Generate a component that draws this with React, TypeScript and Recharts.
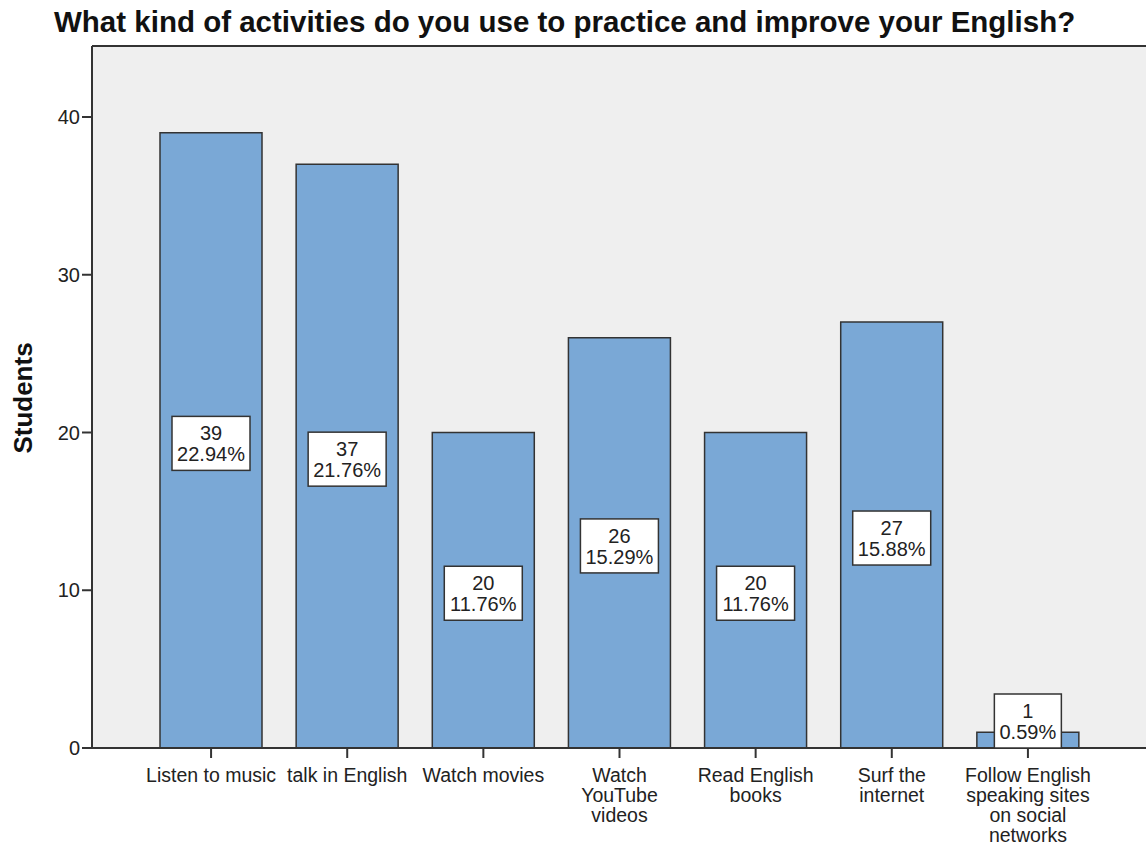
import { Bar, BarChart, CartesianGrid, LabelList, ReferenceLine, XAxis, YAxis } from "recharts";

const categories = [
  "Listen to music",
  "talk in English",
  "Watch movies",
  "Watch YouTube videos",
  "Read English books",
  "Surf the internet",
  "Follow English speaking sites on social networks",
];

const tickLines = [
  ["Listen to music"],
  ["talk in English"],
  ["Watch movies"],
  ["Watch", "YouTube", "videos"],
  ["Read English", "books"],
  ["Surf the", "internet"],
  ["Follow English", "speaking sites", "on social", "networks"],
];

const students = [39, 37, 20, 26, 20, 27, 1];
const percents = ["22.94%", "21.76%", "11.76%", "15.29%", "11.76%", "15.88%", "0.59%"];
const yTicks = [0, 10, 20, 30, 40];

const data = categories.map((name, i) => ({ name, students: students[i], idx: i }));

const FONT = "Arial, 'Liberation Sans', sans-serif";
const INK = "#222222";
const AXIS = "#333333";
const BASE_Y = 748;

const CategoryTick = (props: any) => {
  const { x, y, payload } = props;
  const lines = tickLines[payload.index] || [payload.value];
  return (
    <g>
      {lines.map((ln: string, k: number) => (
        <text
          key={k}
          x={x}
          y={y + 22 + k * 20}
          textAnchor="middle"
          fontSize={19.5}
          fontFamily={FONT}
          fill={INK}
        >
          {ln}
        </text>
      ))}
    </g>
  );
};

const ValueLabel = (props: any) => {
  const { x, y, width, height, index } = props;
  const cx = x + width / 2;
  const pct = percents[index];
  const val = String(students[index]);
  const maxLen = Math.max(pct.length, val.length);
  const boxW = maxLen * 11 + 12;
  const boxH = 54;
  const cy = Math.min(y + height / 2 + 3, BASE_Y - boxH / 2);
  return (
    <g>
      <rect
        x={cx - boxW / 2}
        y={cy - boxH / 2}
        width={boxW}
        height={boxH}
        fill="#ffffff"
        stroke={AXIS}
        strokeWidth={1.5}
      />
      <text x={cx} y={cy - 3} textAnchor="middle" fontSize={20} fontFamily={FONT} fill={INK}>
        {val}
      </text>
      <text x={cx} y={cy + 18} textAnchor="middle" fontSize={20} fontFamily={FONT} fill={INK}>
        {pct}
      </text>
    </g>
  );
};

export default function App() {
  return (
    <div style={{ position: "absolute", left: 0, top: 0, width: 1146, height: 848, background: "#ffffff" }}>
      <div
        style={{
          position: "absolute",
          left: 54,
          top: 7,
          lineHeight: 1,
          fontFamily: FONT,
          fontWeight: "bold",
          fontSize: 29.5,
          color: "#111111",
          whiteSpace: "nowrap",
        }}
      >
        What kind of activities do you use to practice and improve your English?
      </div>
      <div
        style={{
          position: "absolute",
          left: 23,
          top: 398,
          transform: "translate(-50%, -50%) rotate(-90deg)",
          fontFamily: FONT,
          fontWeight: "bold",
          fontSize: 26,
          color: "#111111",
          whiteSpace: "nowrap",
        }}
      >
        Students
      </div>
      <BarChart
        width={1146}
        height={848}
        data={data}
        margin={{ top: 46, right: 0, bottom: 0, left: 0 }}
        barCategoryGap={17}
      >
        <CartesianGrid fill="#efefef" horizontal={false} vertical={false} />
        <XAxis
          dataKey="name"
          height={100}
          padding={{ left: 51, right: 50 }}
          interval={0}
          tick={<CategoryTick />}
          tickSize={10}
          tickLine={{ stroke: AXIS, strokeWidth: 2 }}
          axisLine={{ stroke: AXIS, strokeWidth: 2 }}
        />
        <YAxis
          width={92}
          domain={[0, 44.5]}
          ticks={yTicks}
          allowDataOverflow
          tickSize={10}
          tick={{ fontSize: 20, fontFamily: FONT, fill: INK }}
          tickLine={{ stroke: AXIS, strokeWidth: 2 }}
          axisLine={{ stroke: AXIS, strokeWidth: 2 }}
        />
        <ReferenceLine y={44.5} stroke={AXIS} strokeWidth={2} ifOverflow="visible" />
        <Bar
          dataKey="students"
          fill="#7aa8d6"
          stroke={AXIS}
          strokeWidth={1.5}
          isAnimationActive={false}
        >
          <LabelList dataKey="students" content={<ValueLabel />} />
        </Bar>
      </BarChart>
    </div>
  );
}
